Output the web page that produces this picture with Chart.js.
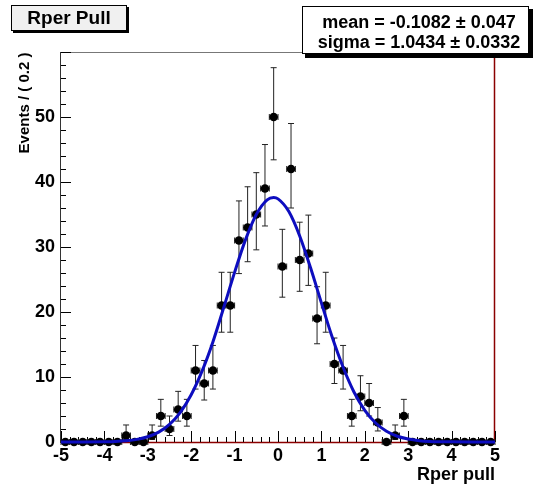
<!DOCTYPE html>
<html>
<head>
<meta charset="utf-8">
<title>Rper Pull</title>
<script src="https://cdn.jsdelivr.net/npm/chart.js@4/dist/chart.umd.min.js"></script>
<style>
  html, body { margin: 0; padding: 0; background: #fff; }
  canvas { display: block; }
</style>
</head>
<body>
<canvas id="pullChart" width="533" height="486"></canvas>
<script>
// Histogram bins (width 0.2) and counts
const binCenters = [-4.9,-4.7,-4.5,-4.3,-4.1,-3.9,-3.7,-3.5,-3.3,-3.1,
                    -2.9,-2.7,-2.5,-2.3,-2.1,-1.9,-1.7,-1.5,-1.3,-1.1,
                    -0.9,-0.7,-0.5,-0.3,-0.1,0.1,0.3,0.5,0.7,0.9,
                    1.1,1.3,1.5,1.7,1.9,2.1,2.3,2.5,2.7,2.9,
                    3.1,3.3,3.5,3.7,3.9,4.1,4.3,4.5,4.7,4.9];
const counts = [0,0,0,0,0,0,0,1,0,0,
                1,4,2,5,4,11,9,11,21,21,
                31,33,35,39,50,27,42,28,29,19,
                21,12,11,4,7,6,3,0,1,4,
                0,0,0,0,0,0,0,0,0,0];
const binHalfWidth = 0.1;

// Gaussian fit curve
const fitX = [-5,-4.5,-4,-3.75,-3.5,-3.25,-3,-2.75,-2.5,-2.25,-2,-1.75,-1.5,-1.25,-1,-0.75,-0.5,-0.25,-0.1,
              0,0.25,0.5,0.75,1,1.25,1.5,1.75,2,2.25,2.5,2.75,3,3.25,3.5,4,4.5,5];
const fitY = [0,0.003,0.04,0.085,0.19,0.4,0.81,1.52,2.72,4.57,7.27,10.9,15.4,20.7,26.1,31.1,35.0,37.25,37.6,
              37.4,35.45,31.7,26.8,21.4,16.1,11.5,7.7,4.88,2.93,1.65,0.88,0.45,0.21,0.095,0.02,0.002,0];

// Axis ticks
const xTickValues = [-5,-4,-3,-2,-1,0,1,2,3,4,5];
const yTickValues = [0,10,20,30,40,50];
const xMinorPerMajor = 5;
const yMinorStep = 2;

const titleText = "Rper Pull";
const statsLines = ["mean = -0.1082 \u00b1 0.047", "sigma = 1.0434 \u00b1 0.0332"];
const xTitle = "Rper pull";
const yTitle = "Events / ( 0.2 )";

const FONT = "'Liberation Sans', Arial, Helvetica, sans-serif";

// Poisson-style error bar (asymmetric)
function errLow(n) { return n + 0.5 - Math.sqrt(n + 0.25); }
function errHigh(n) { return n + 0.5 + Math.sqrt(n + 0.25); }

const rootFrame = {
  id: "rootFrame",
  beforeDatasetsDraw(chart) {
    const { ctx, chartArea: a, scales: { x, y } } = chart;
    ctx.save();
    ctx.lineWidth = 1;

    // frame lines
    ctx.strokeStyle = "#777";
    ctx.beginPath(); ctx.moveTo(a.left, a.top + 0.5); ctx.lineTo(a.right, a.top + 0.5); ctx.stroke();
    ctx.strokeStyle = "#8b0000";
    ctx.lineWidth = 1.5;
    ctx.beginPath(); ctx.moveTo(a.right - 0.5, a.top); ctx.lineTo(a.right - 0.5, a.bottom); ctx.stroke();
    ctx.beginPath(); ctx.moveTo(a.left, a.bottom + 0.5); ctx.lineTo(a.right, a.bottom + 0.5); ctx.stroke();
    ctx.lineWidth = 1;
    ctx.strokeStyle = "#333";
    ctx.beginPath(); ctx.moveTo(a.left - 0.5, a.top); ctx.lineTo(a.left - 0.5, a.bottom + 1); ctx.stroke();

    // inward tick marks
    ctx.strokeStyle = "#000";
    const nx = (xTickValues.length - 1) * xMinorPerMajor;
    for (let k = 0; k <= nx; k++) {
      const v = x.min + (x.max - x.min) * k / nx;
      const px = Math.round(x.getPixelForValue(v)) + 0.5;
      const len = k % xMinorPerMajor === 0 ? 11 : 5;
      ctx.beginPath(); ctx.moveTo(px, a.bottom); ctx.lineTo(px, a.bottom - len); ctx.stroke();
    }
    for (let v = y.min; v <= y.max; v += yMinorStep) {
      const py = Math.round(y.getPixelForValue(v)) + 0.5;
      const len = v % 10 === 0 ? 10 : 5;
      ctx.beginPath(); ctx.moveTo(a.left, py); ctx.lineTo(a.left + len, py); ctx.stroke();
    }

    // error bars
    ctx.strokeStyle = "#222";
    binCenters.forEach((c, i) => {
      const n = counts[i];
      const px = x.getPixelForValue(c);
      const py = y.getPixelForValue(n);
      const xl = x.getPixelForValue(c - binHalfWidth);
      const xr = x.getPixelForValue(c + binHalfWidth);
      ctx.beginPath();
      ctx.moveTo(xl, py); ctx.lineTo(xr, py);
      ctx.moveTo(xl, py - 3); ctx.lineTo(xl, py + 3);
      ctx.moveTo(xr, py - 3); ctx.lineTo(xr, py + 3);
      if (n > 0) {
        const yh = y.getPixelForValue(errHigh(n));
        const yl = y.getPixelForValue(Math.max(0, errLow(n)));
        ctx.moveTo(px, yh); ctx.lineTo(px, yl);
        ctx.moveTo(px - 3, yh); ctx.lineTo(px + 3, yh);
        ctx.moveTo(px - 3, yl); ctx.lineTo(px + 3, yl);
      }
      ctx.stroke();
    });
    ctx.restore();
  },
  afterDraw(chart) {
    const { ctx, chartArea: a } = chart;
    ctx.save();

    // title box
    ctx.fillStyle = "#000";
    ctx.fillRect(13, 7, 116, 26);
    ctx.fillStyle = "#f0f0f0";
    ctx.fillRect(11, 5, 116, 26);
    ctx.strokeStyle = "#000";
    ctx.lineWidth = 1;
    ctx.strokeRect(11.5, 5.5, 115, 25);
    ctx.fillStyle = "#000";
    ctx.font = "bold 19px " + FONT;
    ctx.textAlign = "center";
    ctx.textBaseline = "middle";
    ctx.fillText(titleText, 69, 19);

    // stats box
    ctx.fillStyle = "#000";
    ctx.fillRect(305, 9, 228, 49);
    ctx.fillStyle = "#fff";
    ctx.fillRect(302, 6, 227, 48);
    ctx.strokeRect(302.5, 6.5, 226, 47);
    ctx.fillStyle = "#000";
    ctx.font = "bold 18px " + FONT;
    ctx.fillText(statsLines[0], 419, 23);
    ctx.fillText(statsLines[1], 419, 43);

    // axis titles
    ctx.font = "bold 18px " + FONT;
    ctx.textAlign = "right";
    ctx.fillText(xTitle, a.right, 475);
    ctx.save();
    ctx.translate(25, 103);
    ctx.rotate(-Math.PI / 2);
    ctx.textAlign = "center";
    ctx.font = "bold 15px " + FONT;
    ctx.fillText(yTitle, 0, 0);
    ctx.restore();

    ctx.restore();
  }
};

const pointData = binCenters.map((c, i) => ({ x: c, y: counts[i] }));
const fitData = fitX.map((v, i) => ({ x: v, y: fitY[i] }));

new Chart(document.getElementById("pullChart"), {
  type: "scatter",
  data: {
    datasets: [
      {
        type: "line",
        label: "fit",
        data: fitData,
        borderColor: "#0d0dbf",
        borderWidth: 3,
        pointRadius: 0,
        fill: false,
        cubicInterpolationMode: "monotone",
        clip: false
      },
      {
        label: "data",
        data: pointData,
        backgroundColor: "#000",
        borderColor: "#000",
        pointRadius: 4.3,
        borderWidth: 0,
        clip: false
      }
    ]
  },
  options: {
    responsive: false,
    devicePixelRatio: 1,
    animation: false,
    layout: { padding: { top: 52, right: 38, left: 0, bottom: 0 } },
    plugins: { legend: { display: false }, tooltip: { enabled: false } },
    scales: {
      x: {
        type: "linear",
        min: -5, max: 5,
        grid: { display: false, drawTicks: false },
        border: { display: false },
        afterFit: s => { s.height = 44; },
        afterBuildTicks: s => { s.ticks = xTickValues.map(v => ({ value: v })); },
        ticks: {
          color: "#000",
          padding: 3,
          maxRotation: 0,
          autoSkip: false,
          font: { family: FONT, weight: "bold", size: 18 }
        }
      },
      y: {
        type: "linear",
        min: 0, max: 60,
        grid: { display: false, drawTicks: false },
        border: { display: false },
        afterFit: s => { s.width = 61; },
        afterBuildTicks: s => { s.ticks = yTickValues.map(v => ({ value: v })); },
        ticks: {
          color: "#000",
          padding: 6,
          autoSkip: false,
          font: { family: FONT, weight: "bold", size: 18 }
        }
      }
    }
  },
  plugins: [rootFrame]
});
</script>
</body>
</html>
